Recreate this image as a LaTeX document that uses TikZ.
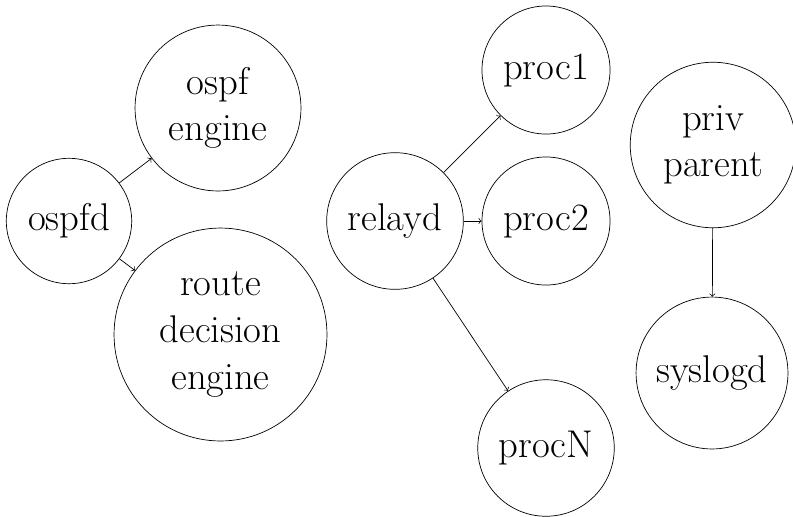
\documentclass[tikz,border=0pt]{standalone}
\usepackage{amsmath}
\usepackage{tikz}
\tikzset{
    every node/.style={circle, draw, align=center, inner sep=7.8pt,
    	font=\fontsize{22}{26.5}\selectfont}
}
\tikzset{
    every edge/.append style={->}
}

\begin{document}
\begin{tikzpicture}
	\useasboundingbox (0cm,0cm) rectangle (15.86cm,-10.32cm);
	\node (ospfd) at (1.38cm,-4.42cm) {ospfd};
	\node (ospfeng) at (4.36cm,-2.16cm) {ospf\\engine};
	\node (rde) at (4.41cm,-6.69cm) {route\\decision\\engine};
	\node (relayd) at (7.90cm,-4.42cm) {relayd};
	\node (proc1) at (10.92cm,-1.40cm) {proc1};
	\node (proc2) at (10.92cm,-4.42cm) {proc2};
	\node (procN) at (10.92cm,-8.96cm) {procN};
	\node (priv) at (14.26cm,-2.90cm) {priv\\parent};
	\node (syslogd) at (14.24cm,-7.46cm) {syslogd};
	
	\draw (ospfd) edge (ospfeng); \draw (ospfd) edge (rde);
	\draw (relayd) edge (proc1); \draw (relayd) edge (proc2);
	\draw (relayd) edge (procN);
	\draw (priv) edge (syslogd);
\end{tikzpicture}
\end{document}
